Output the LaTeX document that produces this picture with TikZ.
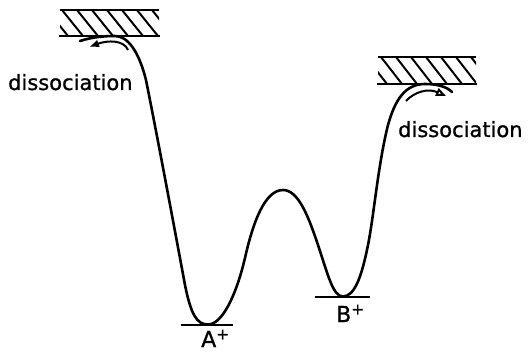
\documentclass[tikz,border=0pt]{standalone}
\usepackage{fontspec}
\setmainfont[FakeBold=1]{DejaVu Sans}
\usetikzlibrary{arrows.meta}
\begin{document}
\begin{tikzpicture}[x=1pt,y=-1pt,
  curve/.style={line width=2.6pt,line cap=round,line join=round},
  wall/.style={line width=2.4pt},
  hatch/.style={line width=2pt},
  lvl/.style={line width=2.2pt},
  lbl/.style={font=\fontsize{21}{24}\selectfont,inner sep=0pt,anchor=base west},
  state/.style={font=\fontsize{22}{24}\selectfont,inner sep=0pt,anchor=base west}]
\useasboundingbox (0,0) rectangle (531,353);
% left dissociation limit
\draw[wall] (60,10) -- (159,10);
\draw[wall] (59,36) -- (160,36);
\begin{scope}
\clip (60,10) rectangle (159,36);
\foreach \x in {47,62,...,152} \draw[hatch] (\x,10) -- (\x+21,36);
\end{scope}
% right dissociation limit
\draw[wall] (378,57) -- (476,57);
\draw[wall] (377,84) -- (477,84);
\begin{scope}
\clip (378,57) rectangle (476,84);
\foreach \x in {366,381,...,471} \draw[hatch] (\x,57) -- (\x+21,84);
\end{scope}
% potential curve
\draw[curve] (80,41) .. controls (92,37) and (105,36) .. (115,36)
  .. controls (128,36) and (139,52) .. (146,80)
  .. controls (157,135) and (172,215) .. (185,285)
  .. controls (191,315) and (197,324.5) .. (208,324.5)
  .. controls (222,324.5) and (236,296) .. (245,258)
  .. controls (253,222) and (265,190) .. (283,190)
  .. controls (298,190) and (308,215) .. (318,245)
  .. controls (328,275) and (333,296.5) .. (343,296.5)
  .. controls (355,296.5) and (362,275) .. (368,245)
  .. controls (374,215) and (378,165) .. (388,125)
  .. controls (395,100) and (405,84) .. (425,84)
  .. controls (438,84) and (447,87) .. (452,92);
% levels
\draw[lvl] (181,325) -- (233,325);
\draw[lvl] (315,297) -- (370,297);
% arrows
\draw[line width=2pt,-{Latex[length=10pt,width=8pt]}] (128,50) .. controls (124,40) and (108,40) .. (89,47);
\draw[line width=2pt,-{Triangle[open,length=10pt,width=8pt]}] (406,101) .. controls (414,92) and (428,88) .. (446,96);
% labels
\node[lbl] (dl) at (8,90) {dissociation};
\node[lbl] (dr) at (398,137) {dissociation};
\node[state] (A) at (201,347) {A\textsuperscript{+}};
\node[state] (B) at (336,322) {B\textsuperscript{+}};
\end{tikzpicture}
\end{document}
